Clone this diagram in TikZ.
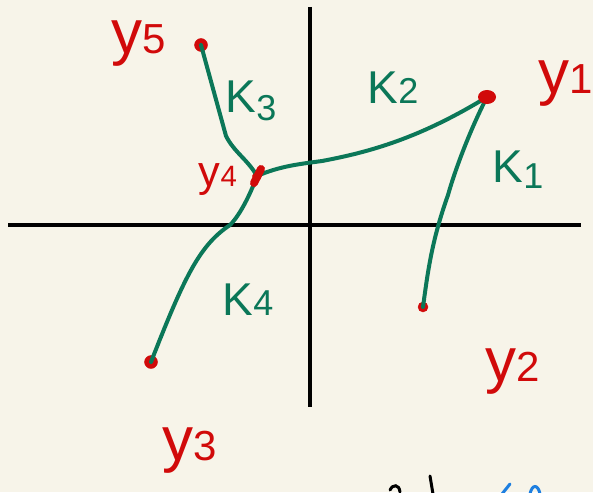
\documentclass[tikz,border=0pt]{standalone}
\usepackage{fontspec}
\setmainfont{Liberation Sans}
\definecolor{paper}{HTML}{F7F4E9}
\definecolor{inkred}{HTML}{D10A0A}
\definecolor{inkgreen}{HTML}{0B7758}
\definecolor{inkblue}{HTML}{1E7FE0}
\tikzset{
  axis/.style={line width=3.2pt,black},
  arc/.style={line width=4pt,inkgreen,line cap=round,line join=round},
  pt/.style={circle,fill=inkred,draw=inkred,inner sep=0pt,minimum size=13pt},
  ylab/.style={inkred,inner sep=0pt,anchor=center},
  klab/.style={inkgreen,inner sep=0pt,anchor=center},
}
\newcommand{\Yl}[1]{{\fontsize{62}{62}\selectfont y}{\fontsize{42}{42}\selectfont #1}}
\newcommand{\Kl}[1]{{\fontsize{46}{46}\selectfont K}{\fontsize{36}{36}\selectfont #1}}
\begin{document}
\begin{tikzpicture}[x=1pt,y=-1pt]
\useasboundingbox (0,0) rectangle (593,492);
\fill[paper] (0,0) rectangle (593,492);
% axes
\coordinate (xl) at (8,225);
\coordinate (xr) at (581,225);
\coordinate (yt) at (310,7);
\coordinate (yb) at (310,407);
\draw[axis] (xl) -- (xr);
\draw[axis] (yt) -- (yb);
% points
\node[pt] (p5) at (201,45) {};
\node[pt,minimum size=10pt] (p1) at (487,97) {};
\node[pt,minimum size=9pt] (p4) at (257,176) {};
\node[pt] (p3) at (151,362) {};
\node[pt,minimum size=10pt] (p2) at (423,307) {};
% curves
\draw[arc] (p5.center) -- (226,136) .. controls (234,152) and (248,160) .. (p4.center);
\draw[arc] (p4.center) .. controls (280,166) and (300,164) .. (322,161)
  .. controls (370,152) and (420,138) .. (p1.center);
\draw[arc] (p1.center) .. controls (470,130) and (455,170) .. (448,195)
  .. controls (432,240) and (428,270) .. (p2.center);
\draw[arc] (p4.center) .. controls (250,195) and (240,215) .. (230,225)
  .. controls (200,245) and (185,275) .. (p3.center);
% y4 mark
\draw[inkred,line width=8pt,line cap=round] (254,183) -- (261,169);
\fill[inkred] (p1) ellipse (9pt and 7pt);
% labels
\node[ylab] (l5) at (139,44) {\Yl{5}};
\node[ylab] (l1) at (566,84) {\Yl{1}};
\node[ylab,scale=0.7] (l4) at (218,180) {\Yl{4}};
\node[ylab] (l3) at (190,451) {\Yl{3}};
\node[ylab] (l2) at (513,372) {\Yl{2}};
\node[klab] (k3) at (251,101) {\Kl{\raisebox{-8pt}{3}}};
\node[klab] (k2) at (393,88) {\Kl{2}};
\node[klab] (k1) at (518,170) {\Kl{\raisebox{-6pt}{1}}};
\node[klab] (k4) at (248,300) {\Kl{4}};
% cut-off scribbles at bottom edge
\draw[black,line width=3pt,line cap=round] (390,490) .. controls (393,484) and (399,484) .. (400,492);
\draw[black,line width=3pt,line cap=round] (430,476) -- (433,494);
\draw[inkblue,line width=3pt,line cap=round] (502,494) -- (510,484);
\draw[inkblue,line width=3pt,line cap=round] (530,494) .. controls (532,484) and (538,484) .. (540,494);
\end{tikzpicture}
\end{document}
